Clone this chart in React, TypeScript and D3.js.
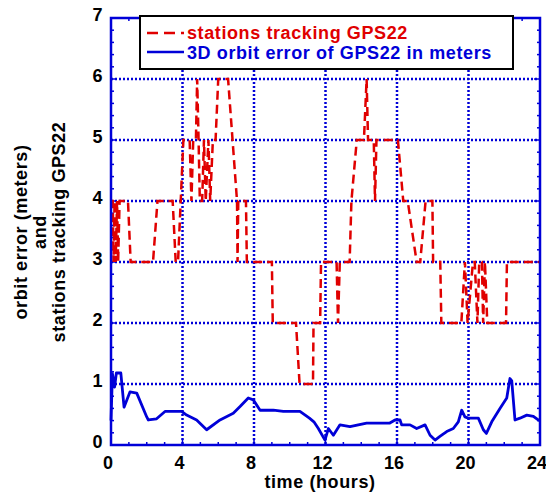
import React, { useEffect, useRef } from "react";
import * as d3 from "d3";

// stations tracking GPS22 (red dashed)
export const stationHours: number[] = [
  0, 0.1, 0.14, 0.2, 0.26, 0.34, 0.4, 0.48, 0.95, 1.1, 2.35, 2.6, 3.45, 3.62,
  3.75, 4.05, 4.4, 4.5, 4.6, 4.75, 4.82, 4.9, 4.97, 5.1, 5.2, 5.3, 5.45, 5.55,
  5.7, 5.85, 6.0, 6.55, 7.05, 7.08, 7.12, 7.55, 7.6, 9.0, 9.05, 10.35, 10.55,
  11.3, 11.33, 11.7, 11.75, 12.62, 12.7, 12.8, 13.35, 13.45, 13.75, 14.15,
  14.3, 14.38, 14.7, 14.77, 14.85, 16.05, 16.35, 16.6, 17.1, 17.3, 17.6, 17.98,
  18.02, 18.42, 18.48, 19.6, 19.8, 19.95, 20.25, 20.35, 20.5, 20.6, 20.75,
  20.82, 20.92, 21.05, 22.1, 22.15, 24,
];
export const stationCounts: number[] = [
  4, 4, 3, 4, 3, 4, 3, 4, 4, 3, 3, 4, 4, 3,
  3, 5, 5, 4, 5, 5, 6, 5, 4, 4, 5, 4, 5, 4,
  5, 5, 6, 6, 4, 3, 4, 4, 3, 3, 2, 2, 1,
  1, 2, 2, 3, 3, 2, 3, 3, 4, 5, 5,
  6, 5, 5, 4, 5, 5, 4, 4, 3, 3, 4, 4,
  3, 3, 2, 2, 3, 2, 3, 3, 2, 3, 3,
  2, 3, 2, 2, 3, 3,
];

// 3D orbit error of GPS22 in meters (blue solid)
export const errorHours: number[] = [
  0, 0.08, 0.2, 0.3, 0.55, 0.73, 1.06, 1.44, 2.0, 2.09, 2.55, 3.02, 3.95, 4.23,
  4.79, 5.35, 6.1, 6.84, 7.22, 7.68, 7.96, 8.34, 9.08, 9.64, 10.57, 11.1, 11.35,
  11.6, 11.97, 12.16, 12.44, 12.81, 13.37, 14.3, 15.6, 15.89, 16.17, 16.26,
  16.73, 17.1, 17.57, 17.85, 18.13, 18.4, 18.78, 19.15, 19.43, 19.62, 19.8,
  19.99, 20.55, 20.83, 21.0, 21.3, 21.76, 22.14, 22.32, 22.42, 22.6, 22.88,
  23.26, 23.63, 23.9, 24,
];
export const errorMeters: number[] = [
  0.4, 1.17, 0.95, 1.18, 1.18, 0.62, 0.87, 0.85, 0.46, 0.41, 0.43, 0.55, 0.55, 0.49,
  0.41, 0.25, 0.41, 0.52, 0.63, 0.77, 0.74, 0.57, 0.57, 0.55, 0.55, 0.44, 0.38,
  0.27, 0.08, 0.27, 0.16, 0.33, 0.3, 0.36, 0.36, 0.41, 0.41, 0.33,
  0.33, 0.27, 0.33, 0.16, 0.08, 0.14, 0.22, 0.27, 0.38, 0.57, 0.46,
  0.44, 0.44, 0.25, 0.19, 0.38, 0.6, 0.77, 1.09, 1.05, 0.41, 0.44,
  0.49, 0.47, 0.41, 0.4,
];

export const xTicks: number[] = [0, 4, 8, 12, 16, 20, 24];
export const yTicks: number[] = [0, 1, 2, 3, 4, 5, 6, 7];

const BLUE = "#0000d8";
const RED = "#e00000";
const FONT = "Arial, 'Liberation Sans', Helvetica, sans-serif";

const OrbitChart = () => {
  const ref = useRef<HTMLDivElement>(null);
  const width = 546;
  const height = 492;
  const left = 111;
  const right = 540;
  const top = 18;
  const bottom = 445;

  useEffect(() => {
    document.body.style.margin = "0";
    d3.select(ref.current).select("svg").remove();
    const svg = d3
      .select(ref.current)
      .append("svg")
      .attr("width", width)
      .attr("height", height)
      .style("display", "block")
      .style("background", "#fff");

    const x = d3.scaleLinear().domain([0, 24]).range([left, right]);
    const y = d3.scaleLinear().domain([0, 7]).range([bottom, top]);

    const boldText = (sel: d3.Selection<SVGTextElement, any, any, any>) =>
      sel
        .attr("font-family", FONT)
        .attr("font-weight", "bold")
        .attr("font-size", 18)
        .attr("letter-spacing", 0.6);

    // dotted grid
    const grid = svg.append("g");
    grid
      .selectAll("line.hgrid")
      .data(yTicks.slice(1, -1))
      .enter()
      .append("line")
      .attr("x1", left)
      .attr("x2", right)
      .attr("y1", (d) => y(d))
      .attr("y2", (d) => y(d))
      .attr("stroke", BLUE)
      .attr("stroke-width", 2.5)
      .attr("stroke-dasharray", "2,2");
    grid
      .selectAll("line.vgrid")
      .data(xTicks.slice(1, -1))
      .enter()
      .append("line")
      .attr("x1", (d) => x(d))
      .attr("x2", (d) => x(d))
      .attr("y1", top)
      .attr("y2", bottom)
      .attr("stroke", BLUE)
      .attr("stroke-width", 2.5)
      .attr("stroke-dasharray", "2,2");

    // minor ticks inside the frame
    const ticks = svg.append("g");
    d3.range(1, 24).forEach((h) => {
      const len = h % 4 === 0 ? 6 : 3;
      ticks
        .append("line")
        .attr("x1", x(h))
        .attr("x2", x(h))
        .attr("y1", bottom)
        .attr("y2", bottom - len)
        .attr("stroke", BLUE)
        .attr("stroke-width", 1.5);
      ticks
        .append("line")
        .attr("x1", x(h))
        .attr("x2", x(h))
        .attr("y1", top)
        .attr("y2", top + len)
        .attr("stroke", BLUE)
        .attr("stroke-width", 1.5);
    });
    d3.range(1, 35).forEach((i) => {
      const v = i / 5;
      const len = i % 5 === 0 ? 6 : 3;
      ticks
        .append("line")
        .attr("x1", left)
        .attr("x2", left + len)
        .attr("y1", y(v))
        .attr("y2", y(v))
        .attr("stroke", BLUE)
        .attr("stroke-width", 1.5);
      ticks
        .append("line")
        .attr("x1", right)
        .attr("x2", right - len)
        .attr("y1", y(v))
        .attr("y2", y(v))
        .attr("stroke", BLUE)
        .attr("stroke-width", 1.5);
    });

    // data lines
    const stations = stationHours.map((h, i) => [h, stationCounts[i]] as [number, number]);
    const errors = errorHours.map((h, i) => [h, errorMeters[i]] as [number, number]);
    const line = d3
      .line<[number, number]>()
      .x((d) => x(d[0]))
      .y((d) => y(d[1]));

    svg
      .append("path")
      .datum(errors)
      .attr("d", line)
      .attr("fill", "none")
      .attr("stroke", BLUE)
      .attr("stroke-width", 2.8)
      .attr("stroke-linejoin", "round");

    svg
      .append("path")
      .datum(stations)
      .attr("d", line)
      .attr("fill", "none")
      .attr("stroke", RED)
      .attr("stroke-width", 2.5)
      .attr("stroke-dasharray", "9,5");

    // frame
    svg
      .append("rect")
      .attr("x", left)
      .attr("y", top)
      .attr("width", right - left)
      .attr("height", bottom - top)
      .attr("fill", "none")
      .attr("stroke", BLUE)
      .attr("stroke-width", 2.5);

    // tick labels
    svg
      .selectAll("text.xlabel")
      .data(xTicks)
      .enter()
      .append("text")
      .attr("x", (d) => x(d) - 3)
      .attr("y", bottom + 24)
      .attr("text-anchor", "middle")
      .call(boldText)
      .attr("letter-spacing", 0)
      .text((d) => d);
    svg
      .selectAll("text.ylabel")
      .data(yTicks)
      .enter()
      .append("text")
      .attr("x", left - 8)
      .attr("y", (d) => y(d) + 3)
      .attr("text-anchor", "end")
      .call(boldText)
      .text((d) => d);

    // axis titles
    svg
      .append("text")
      .attr("x", 320)
      .attr("y", 488)
      .attr("text-anchor", "middle")
      .call(boldText)
      .text("time (hours)");
    const yTitle = ["orbit error (meters)", "and", "stations tracking GPS22"];
    yTitle.forEach((t, i) => {
      svg
        .append("text")
        .attr("transform", `translate(${27 + i * 19}, 232) rotate(-90)`)
        .attr("text-anchor", "middle")
        .call(boldText)
        .text(t);
    });

    // legend
    const legend = svg.append("g");
    legend
      .append("rect")
      .attr("x", 140)
      .attr("y", 16)
      .attr("width", 373)
      .attr("height", 53)
      .attr("fill", "#fff")
      .attr("stroke", "#000")
      .attr("stroke-width", 2);
    legend
      .append("line")
      .attr("x1", 147)
      .attr("x2", 184)
      .attr("y1", 33)
      .attr("y2", 33)
      .attr("stroke", RED)
      .attr("stroke-width", 2.5)
      .attr("stroke-dasharray", "11,6");
    legend
      .append("line")
      .attr("x1", 147)
      .attr("x2", 184)
      .attr("y1", 52)
      .attr("y2", 52)
      .attr("stroke", BLUE)
      .attr("stroke-width", 2.5);
    legend
      .append("text")
      .attr("x", 187)
      .attr("y", 39)
      .attr("fill", RED)
      .call(boldText)
      .text("stations tracking GPS22");
    legend
      .append("text")
      .attr("x", 187)
      .attr("y", 58.5)
      .attr("fill", BLUE)
      .call(boldText)
      .text("3D orbit error of GPS22 in meters");
  }, []);

  return <div ref={ref}></div>;
};

export default function App() {
  return <OrbitChart />;
}
